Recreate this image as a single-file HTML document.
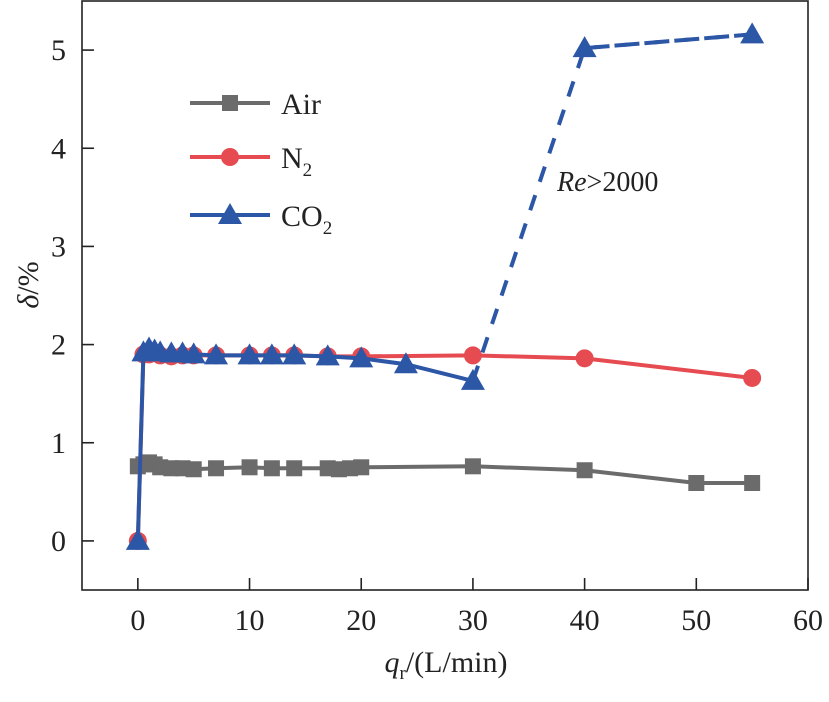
<!DOCTYPE html>
<html><head><meta charset="utf-8"><style>
html,body{margin:0;padding:0;background:#fff;}
svg text{font-family:"Liberation Serif","Times New Roman",serif;fill:#222;}
</style></head><body>
<svg id="chart" width="829" height="697" xmlns="http://www.w3.org/2000/svg"></svg>
<script>
const xTicks=[0,10,20,30,40,50,60];
const yTicks=[0,1,2,3,4,5];
const airX=[0,0.5,1,1.5,2,3,4,5,7,10,12,14,17,18,19,20,30,40,50,55];
const airY=[0.76,0.78,0.8,0.78,0.75,0.74,0.74,0.73,0.74,0.75,0.74,0.74,0.74,0.73,0.74,0.75,0.76,0.72,0.59,0.59];
const n2X=[0,0.5,1,2,3,4,5,7,10,12,14,17,20,30,40,55];
const n2Y=[0,1.9,1.9,1.89,1.88,1.89,1.89,1.89,1.89,1.89,1.89,1.88,1.88,1.89,1.86,1.66];
const co2X=[0,0.5,1,1.5,2,3,4,5,7,10,12,14,17,20,24,30];
const co2Y=[0,1.92,1.96,1.94,1.92,1.91,1.91,1.9,1.89,1.89,1.89,1.89,1.88,1.86,1.8,1.63];
const co2DashX=[30,40,55];
const co2DashY=[1.63,5.02,5.16];

const L=82,R=808,T=1,B=590,xMin=-5,xMax=60,yMin=-0.5,yMax=5.5;
const sx=v=>L+(v-xMin)/(xMax-xMin)*(R-L);
const sy=v=>B-(v-yMin)/(yMax-yMin)*(B-T);
const svg=document.getElementById('chart');
const NS='http://www.w3.org/2000/svg';
function mk(tag,attrs,parent){const e=document.createElementNS(NS,tag);for(const k in attrs)e.setAttribute(k,attrs[k]);(parent||svg).appendChild(e);return e;}

const frame=mk('rect',{x:L,y:T,width:R-L,height:B-T,fill:'none',stroke:'#222','stroke-width':1.6});



xTicks.forEach(v=>{
  const t=mk('line',{x1:sx(v),x2:sx(v),y1:B,y2:B-12,stroke:'#222','stroke-width':1.6});
  
  
  const l=mk('text',{x:sx(v),y:B+40,'text-anchor':'middle','font-size':30});
  l.textContent=v;
  
  
});
yTicks.forEach(v=>{
  const t=mk('line',{x1:L,x2:L+12,y1:sy(v),y2:sy(v),stroke:'#222','stroke-width':1.6});
  
  
  const l=mk('text',{x:L-16,y:sy(v)+10,'text-anchor':'end','font-size':30});
  l.textContent=v;
  
  
});

function series(xs,ys,color,marker,name,dash){
  const g=mk('g',{});
  
  
  const pts=xs.map((x,i)=>sx(x)+','+sy(ys[i])).join(' ');
  const pl=mk('polyline',{points:pts,fill:'none',stroke:color,'stroke-width':4,'stroke-dasharray':dash||'none'},g);
  
  
  xs.forEach((x,i)=>{
    const m=drawMarker(sx(x),sy(ys[i]),color,marker,g);
    
    
  });
}
function drawMarker(cx,cy,color,marker,g){
  if(marker==='sq')return mk('rect',{x:cx-8,y:cy-8,width:16,height:16,fill:color},g);
  if(marker==='ci')return mk('circle',{cx:cx,cy:cy,r:9,fill:color},g);
  return mk('polygon',{points:`${cx},${cy-12} ${cx-12},${cy+9} ${cx+12},${cy+9}`,fill:color},g);
}
series(airX,airY,'#6b6b6b','sq','air-series');
series(n2X,n2Y,'#e54b50','ci','n2-series');
series(co2X,co2Y,'#2c56a6','tr','co2-series');
series(co2DashX.slice(1),co2DashY.slice(1),'#2c56a6','tr','co2-turbulent-series','16 14');
const dl=mk('polyline',{points:co2DashX.map((x,i)=>sx(x)+','+sy(co2DashY[i])).join(' '),fill:'none',stroke:'#2c56a6','stroke-width':4,'stroke-dasharray':'16 14'});



const leg=[['Air','#6b6b6b','sq',103],['N','#e54b50','ci',157],['CO','#2c56a6','tr',215]];
leg.forEach(([t,c,m,y],i)=>{
  const g=mk('g',{});
  
  
  mk('line',{x1:190,x2:270,y1:y,y2:y,stroke:c,'stroke-width':4},g);
  drawMarker(230,y,c,m,g);
  const tx=mk('text',{x:281,y:y+11,'font-size':30},g);
  tx.textContent=t;
  if(i>0){const s=mk('tspan',{'font-size':19,dy:8},tx);s.textContent='2';}
});

const ann=mk('text',{x:557,y:191,'font-size':28});
ann.innerHTML='<tspan font-style="italic">Re</tspan>&gt;2000';



const xt=mk('text',{x:446,y:672,'text-anchor':'middle','font-size':30});
xt.innerHTML='<tspan font-style="italic">q</tspan><tspan font-size="19" dy="7">r</tspan><tspan dy="-7">/(L/min)</tspan>';



const yt=mk('text',{x:0,y:0,'text-anchor':'middle','font-size':30,transform:'translate(38,285) rotate(-90)'});
yt.innerHTML='<tspan font-style="italic">δ</tspan>/%';


</script>
</body></html>
